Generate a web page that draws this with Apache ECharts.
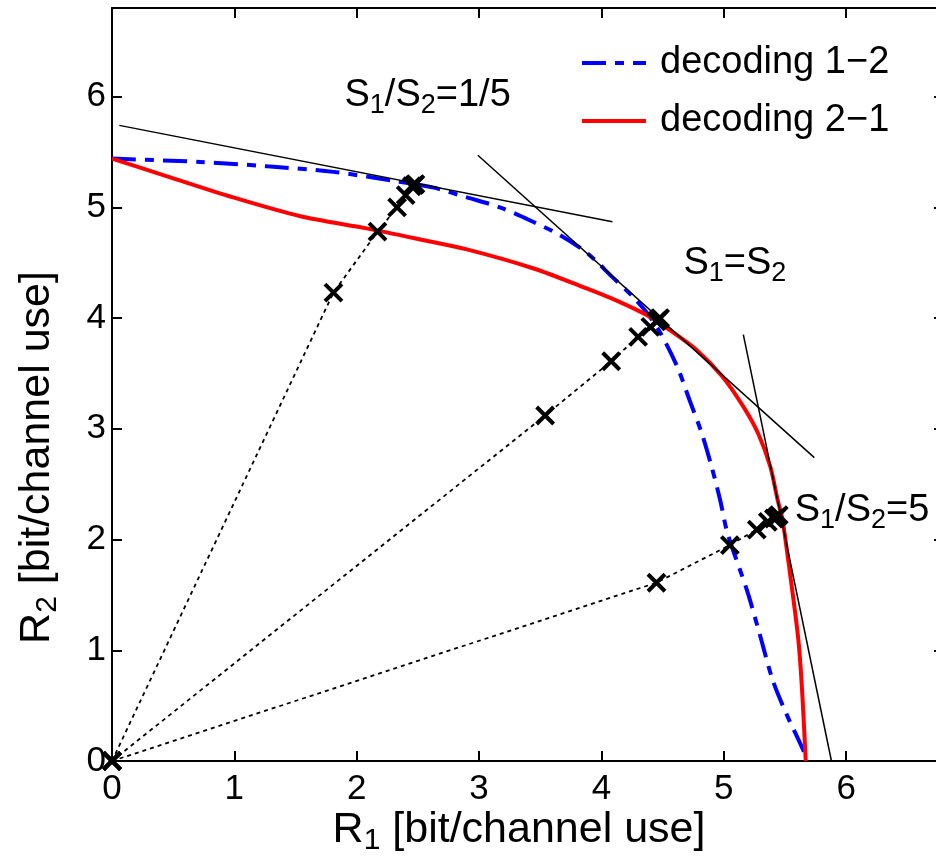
<!DOCTYPE html>
<html>
<head>
<meta charset="utf-8">
<script src="https://cdn.jsdelivr.net/npm/echarts@6/dist/echarts.min.js"></script>
<style>html,body{margin:0;padding:0;background:#fff;}#chart{width:936px;height:862px;}</style>
</head>
<body>
<div id="chart"></div>
<script>
// ---- data ----
const xTicks = [0, 1, 2, 3, 4, 5, 6];
const yTicks = [0, 1, 2, 3, 4, 5, 6];
const legendNames = ['decoding 1\u22122', 'decoding 2\u22121'];

const blueX = [0, 0.72, 1.27, 1.81, 2.35, 2.62, 2.90, 3.17, 3.44, 3.66, 3.88, 4.09, 4.26, 4.37, 4.48, 4.62, 4.72, 4.82, 4.90, 4.97, 5.03, 5.19, 5.29, 5.40, 5.51, 5.66, 5.67];
const blueY = [5.44, 5.41, 5.37, 5.32, 5.23, 5.18, 5.09, 5.00, 4.87, 4.75, 4.59, 4.37, 4.19, 4.05, 3.87, 3.56, 3.26, 2.96, 2.66, 2.36, 2.06, 1.54, 1.16, 0.73, 0.43, 0.07, 0];

const redX = [0, 0.45, 0.99, 1.54, 2.08, 2.52, 2.90, 3.44, 3.85, 4.12, 4.40, 4.56, 4.78, 4.99, 5.16, 5.28, 5.38, 5.44, 5.48, 5.51, 5.56, 5.61, 5.64, 5.67];
const redY = [5.44, 5.28, 5.09, 4.92, 4.81, 4.71, 4.62, 4.45, 4.28, 4.16, 4.01, 3.89, 3.71, 3.47, 3.20, 2.96, 2.66, 2.36, 2.18, 1.95, 1.54, 1.09, 0.64, 0];

const tangentLines = [
  [[0.06, 5.74], [4.09, 4.87]],
  [[2.99, 5.47], [5.74, 2.74]],
  [[5.16, 3.85], [5.88, 0]]
];

const ray1 = [[0, 0], [1.81, 4.23], [2.17, 4.78], [2.33, 5.00], [2.40, 5.11], [2.45, 5.19], [2.47, 5.20], [2.48, 5.21]];
const ray2 = [[0, 0], [3.54, 3.12], [4.08, 3.61], [4.30, 3.83], [4.40, 3.92], [4.45, 3.97], [4.47, 3.99], [4.48, 4.00]];
const ray3 = [[0, 0], [4.45, 1.61], [5.05, 1.95], [5.27, 2.09], [5.36, 2.16], [5.41, 2.19], [5.43, 2.20], [5.45, 2.22]];

const annotations = [
  { text: 'S_1/S_2=1/5', x: 1.90, y: 5.99 },
  { text: 'S_1=S_2', x: 4.67, y: 4.47 },
  { text: 'S_1/S_2=5', x: 5.58, y: 2.24 }
];
const xName = 'R_1 [bit/channel use]';
const yName = 'R_2 [bit/channel use]';

// ---- helpers ----
const FONT = '"Liberation Sans", Arial, Helvetica, sans-serif';
function richStyles(size) {
  const sub = Math.round(size * 0.7);
  return {
    n: { fontSize: size, fontFamily: FONT, color: '#000', verticalAlign: 'top', lineHeight: size + 4 },
    s: { fontSize: sub, fontFamily: FONT, color: '#000', verticalAlign: 'bottom', lineHeight: sub, padding: [Math.round(size * 0.52), 0, 0, 0] }
  };
}
function toRich(str) {
  return str.split(/_(.)/).map((p, i) => p === '' ? '' : (i % 2 ? '{s|' + p + '}' : '{n|' + p + '}')).join('');
}
const CROSS = 'path://M0,0L10,10M10,0L0,10';

const chart = echarts.init(document.getElementById('chart'), null, { renderer: 'canvas' });

const XMAX = 6.8, YMAX = 6.8;
const tickFmt = v => (Number.isInteger(v) && xTicks.indexOf(v) >= 0) ? String(v) : '';

function baseAxis(extra) {
  return Object.assign({
    type: 'value', min: 0, interval: 1,
    splitLine: { show: false },
    axisLine: { show: true, onZero: false, lineStyle: { color: '#000', width: 2 } },
    axisTick: { show: true, inside: true, length: 10, lineStyle: { color: '#000', width: 2 } }
  }, extra);
}

const series = [
  {
    name: legendNames[0], type: 'line', symbol: 'none', z: 2, smooth: 0.3,
    data: blueX.map((x, i) => [x, blueY[i]]),
    lineStyle: { color: '#0000ff', width: 4, type: [24, 9, 9, 9] },
    itemStyle: { color: '#0000ff' }
  },
  {
    name: legendNames[1], type: 'line', symbol: 'none', z: 2, smooth: 0.3,
    data: redX.map((x, i) => [x, redY[i]]),
    lineStyle: { color: '#ff0000', width: 4 },
    itemStyle: { color: '#ff0000' }
  }
];
tangentLines.forEach(seg => series.push({
  type: 'line', symbol: 'none', z: 3, data: seg,
  lineStyle: { color: '#000', width: 1.5 }
}));
[ray1, ray2, ray3].forEach(r => series.push({
  type: 'line', z: 4, data: r,
  symbol: CROSS, symbolSize: 17, symbolKeepAspect: true, showAllSymbol: true,
  lineStyle: { color: '#000', width: 1.8, type: [4, 4] },
  itemStyle: { color: '#000', borderColor: '#000', borderWidth: 4 }
}));
series.push({
  type: 'scatter', symbolSize: 0, z: 5, silent: true,
  itemStyle: { opacity: 1 },
  data: annotations.map(a => ({ value: [a.x, a.y], label: { formatter: toRich(a.text) } })),
  label: { show: true, position: 'right', distance: 0, color: '#000', opacity: 1, rich: richStyles(38) }
});

chart.setOption({
  animation: false,
  backgroundColor: '#fff',
  grid: { left: 112, top: 8, right: -8, bottom: 101, containLabel: false, outerBoundsMode: 'none' },
  legend: {
    data: legendNames, orient: 'vertical', left: 575, top: 38,
    itemWidth: 64, itemHeight: 14, itemGap: 18,
    itemStyle: { color: 'rgba(0,0,0,0)', borderWidth: 0, opacity: 0 },
    lineStyle: { width: 4 },
    textStyle: { fontSize: 38, fontFamily: FONT, color: '#000', lineHeight: 40, padding: [0, 0, 0, 9] }
  },
  xAxis: [
    baseAxis({
      position: 'bottom', max: XMAX,
      axisLabel: { show: true, formatter: tickFmt, fontSize: 35, fontFamily: FONT, color: '#000', margin: 11, showMaxLabel: false, lineHeight: 35 },
      name: toRich(xName), nameLocation: 'middle', nameGap: 48, nameMoveOverlap: false,
      nameTextStyle: { rich: richStyles(43), padding: [0, 18, 0, 0] }
    }),
    baseAxis({ position: 'top', max: XMAX, axisLabel: { show: false } })
  ],
  yAxis: [
    baseAxis({
      position: 'left', max: YMAX,
      axisLabel: { show: true, formatter: tickFmt, fontSize: 35, fontFamily: FONT, color: '#000', margin: 6, showMaxLabel: false },
      name: toRich(yName), nameLocation: 'middle', nameGap: 49,
      nameTextStyle: { rich: richStyles(43), padding: [0, 146, 0, 0] }
    }),
    baseAxis({ position: 'right', max: YMAX, axisLabel: { show: false } })
  ],
  series: series
});
</script>
</body>
</html>
